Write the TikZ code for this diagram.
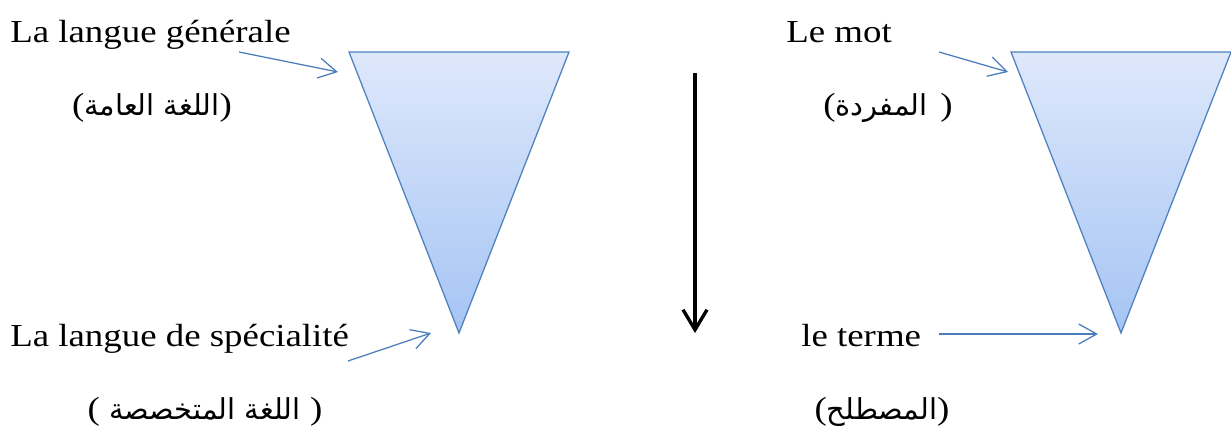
\documentclass[tikz,border=0pt]{standalone}
\usepackage{fontspec}
\setmainfont{Liberation Serif}[FakeStretch=1.15]
\newfontfamily\arabicfont[Script=Arabic]{DejaVu Sans}
\TeXXeTstate=1
\usetikzlibrary{arrows.meta}

\definecolor{triborder}{RGB}{79,129,189}
\definecolor{tritop}{RGB}{222,232,251}
\definecolor{tribottom}{RGB}{165,196,244}
\definecolor{pointblue}{RGB}{74,126,187}

\newcommand{\artxt}[1]{{\arabicfont\fontsize{20.5}{24}\selectfont\beginR #1\endR}}

\begin{document}
\begin{tikzpicture}[
    lbl/.style={anchor=base west, inner sep=0pt, font=\fontsize{22.8}{27}\selectfont},
    arb/.style={inner sep=0pt, font=\fontsize{22.8}{27}\selectfont},
    tri/.style={draw=triborder, line width=0.9pt, top color=tritop, bottom color=tribottom, line join=miter},
    pointer/.style={-{Straight Barb[length=4.5mm, width=5mm]}, draw=pointblue, line width=0.9pt},
    downarrow/.style={-{Straight Barb[length=5mm, width=6mm, line width=2.4pt]}, line width=2.8pt, black}
]
\useasboundingbox (0,0) rectangle (30.775,-10.675);

% Triangles
\coordinate (lt1) at (8.725,-1.3);
\coordinate (lt2) at (14.225,-1.3);
\coordinate (ltip) at (11.475,-8.325);
\coordinate (rt1) at (25.275,-1.3);
\coordinate (rt2) at (30.775,-1.3);
\coordinate (rtip) at (28.025,-8.325);
\draw[tri] (lt1) -- (lt2) -- (ltip) -- cycle;
\draw[tri] (rt1) -- (rt2) -- (rtip) -- cycle;

% Labels, left
\node[lbl] (gen) at (0.25,-1.05) {La langue générale};
\node[arb] (genar) at (3.8,-2.7) {(\artxt{اللغة العامة})};
\node[lbl] (spec) at (0.25,-8.65) {La langue de spécialité};
\node[arb] (specar) at (5.125,-10.3) {(\hspace{0.3em}\artxt{اللغة المتخصصة}\hspace{0.3em})};

% Labels, right
\node[lbl] (mot) at (19.65,-1.05) {Le mot};
\node[arb] (motar) at (22.2,-2.7) {(\artxt{المفردة}\hspace{0.4em})};
\node[lbl] (terme) at (20.025,-8.65) {le terme};
\node[arb] (termear) at (22.05,-10.3) {(\artxt{المصطلح})};

% Arrows
\coordinate (a1) at (5.975,-1.3);
\coordinate (b1) at (8.45,-1.8);
\coordinate (a2) at (8.7,-9.025);
\coordinate (b2) at (10.775,-8.325);
\coordinate (a3) at (23.475,-1.3);
\coordinate (b3) at (25.2,-1.8);
\coordinate (a4) at (23.475,-8.35);
\coordinate (b4) at (27.45,-8.35);
\draw[pointer] (a1) -- (b1);
\draw[pointer] (a2) -- (b2);
\draw[pointer] (a3) -- (b3);
\draw[pointer] (a4) -- (b4);

% Middle arrow
\coordinate (top) at (17.375,-1.825);
\coordinate (bot) at (17.375,-8.325);
\draw[downarrow] (top) -- (bot);

\end{tikzpicture}
\end{document}
